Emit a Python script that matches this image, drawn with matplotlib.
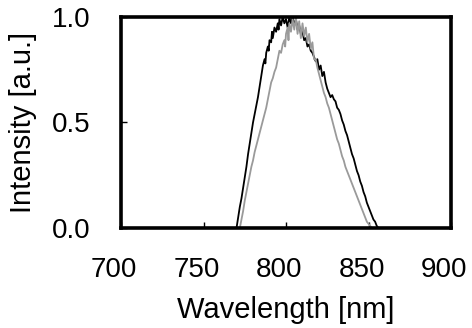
import matplotlib
matplotlib.use("Agg")
import matplotlib.pyplot as plt
import matplotlib.transforms as mtransforms

plt.rcParams['font.family'] = ['Liberation Sans', 'DejaVu Sans']

# black spectrum
wl_black = [770.0, 771.0, 772.0, 773.0, 774.0, 775.0, 776.0, 777.0, 778.0, 779.0,
            780.0, 781.0, 782.0, 783.0, 784.0, 785.0, 786.0, 787.0, 787.5, 788.0,
            789.0, 789.5, 790.0, 791.0, 791.5, 792.0, 793.0, 794.0, 795.0, 795.5,
            796.0, 797.0, 798.0, 799.0, 800.0, 801.0, 802.0, 803.0, 804.0, 805.0,
            806.0, 807.0, 808.0, 809.0, 810.0, 811.0, 812.0, 813.0, 814.0, 815.0,
            816.0, 817.0, 818.0, 819.0, 820.0, 821.0, 822.0, 823.0, 824.0, 825.0,
            826.0, 827.0, 828.0, 829.0, 830.0, 831.0, 832.0, 833.0, 834.0, 835.0,
            836.0, 837.0, 838.0, 839.0, 840.0, 841.0, 842.0, 843.0, 844.0, 845.0,
            846.0, 847.0, 848.0, 849.0, 850.0, 851.0, 852.0, 853.0, 854.0, 855.0,
            856.0]
int_black = [0.00, 0.05, 0.10, 0.14, 0.19, 0.24, 0.29, 0.35, 0.40, 0.45,
             0.50, 0.54, 0.58, 0.62, 0.67, 0.72, 0.77, 0.80, 0.78, 0.83,
             0.86, 0.84, 0.89, 0.88, 0.93, 0.90, 0.95, 0.93, 0.97, 0.94,
             0.99, 0.96, 1.00, 0.97, 0.99, 0.95, 1.00, 0.97, 1.00, 0.96,
             0.99, 0.94, 0.96, 0.92, 0.93, 0.89, 0.90, 0.86, 0.87, 0.84,
             0.83, 0.81, 0.79, 0.80, 0.75, 0.77, 0.72, 0.74, 0.69, 0.66,
             0.64, 0.62, 0.63, 0.61, 0.60, 0.57, 0.56, 0.54, 0.51, 0.49,
             0.46, 0.44, 0.41, 0.38, 0.35, 0.33, 0.30, 0.27, 0.25, 0.22,
             0.20, 0.17, 0.15, 0.12, 0.10, 0.08, 0.06, 0.04, 0.03, 0.01,
             0.00]

# grey spectrum
wl_grey = [772.0, 773.0, 774.0, 775.0, 776.0, 777.0, 778.0, 779.0, 780.0, 781.0,
           782.0, 783.0, 784.0, 785.0, 786.0, 787.0, 788.0, 789.0, 790.0, 791.0,
           792.0, 793.0, 794.0, 795.0, 796.0, 797.0, 798.0, 799.0, 799.5, 800.0,
           801.0, 801.5, 802.0, 803.0, 804.0, 805.0, 806.0, 807.0, 808.0, 809.0,
           810.0, 811.0, 812.0, 813.0, 814.0, 815.0, 816.0, 817.0, 818.0, 819.0,
           820.0, 821.0, 822.0, 823.0, 824.0, 825.0, 826.0, 827.0, 828.0, 829.0,
           830.0, 831.0, 832.0, 833.0, 834.0, 835.0, 836.0, 837.0, 838.0, 839.0,
           840.0, 841.0, 842.0, 843.0, 844.0, 845.0, 846.0, 847.0, 848.0, 849.0,
           850.0, 851.0, 852.0]
int_grey = [0.00, 0.04, 0.08, 0.13, 0.17, 0.21, 0.25, 0.29, 0.32, 0.36,
            0.39, 0.42, 0.45, 0.48, 0.51, 0.54, 0.57, 0.61, 0.65, 0.69,
            0.71, 0.74, 0.76, 0.80, 0.84, 0.83, 0.87, 0.89, 0.86, 0.92,
            0.95, 0.89, 0.97, 0.93, 0.99, 0.94, 1.00, 0.92, 0.98, 0.90,
            0.97, 0.91, 0.95, 0.88, 0.92, 0.85, 0.88, 0.80, 0.80, 0.76,
            0.73, 0.70, 0.67, 0.64, 0.62, 0.59, 0.57, 0.54, 0.51, 0.48,
            0.45, 0.42, 0.40, 0.37, 0.34, 0.32, 0.29, 0.27, 0.25, 0.23,
            0.21, 0.19, 0.17, 0.15, 0.13, 0.11, 0.09, 0.07, 0.05, 0.03,
            0.02, 0.01, 0.00]

x_ticks = [700, 750, 800, 850, 900]
y_ticks = [0.0, 0.5, 1.0]

fig = plt.figure(figsize=(4.72, 3.28), dpi=100)
ax = fig.add_axes([0.2564, 0.3049, 0.6991, 0.6433])

ax.plot(wl_black, int_black, color='black', lw=1.3)
ax.plot(wl_grey, int_grey, color='#9a9a9a', lw=1.3)

ax.set_xlim(700, 900)
ax.set_ylim(0, 1.0)
ax.set_xticks(x_ticks)
ax.set_yticks(y_ticks)
ax.set_xticklabels([str(v) for v in x_ticks])
ax.set_yticklabels(['%.1f' % v for v in y_ticks])
ax.tick_params(direction='in', length=4, width=1, labelsize=20)
ax.tick_params(axis='x', pad=21)
ax.tick_params(axis='y', pad=22)

# x labels sit a little left of their ticks in the original
shift = mtransforms.ScaledTranslation(-0.07, 0, fig.dpi_scale_trans)
for lab in ax.get_xticklabels():
    lab.set_transform(lab.get_transform() + shift)

for s in ax.spines.values():
    s.set_linewidth(2.6)

ax.set_xlabel('Wavelength [nm]', fontsize=21, labelpad=9)
ax.set_ylabel('Intensity [a.u.]', fontsize=21, labelpad=11)

fig.savefig('out.png', dpi=100)
